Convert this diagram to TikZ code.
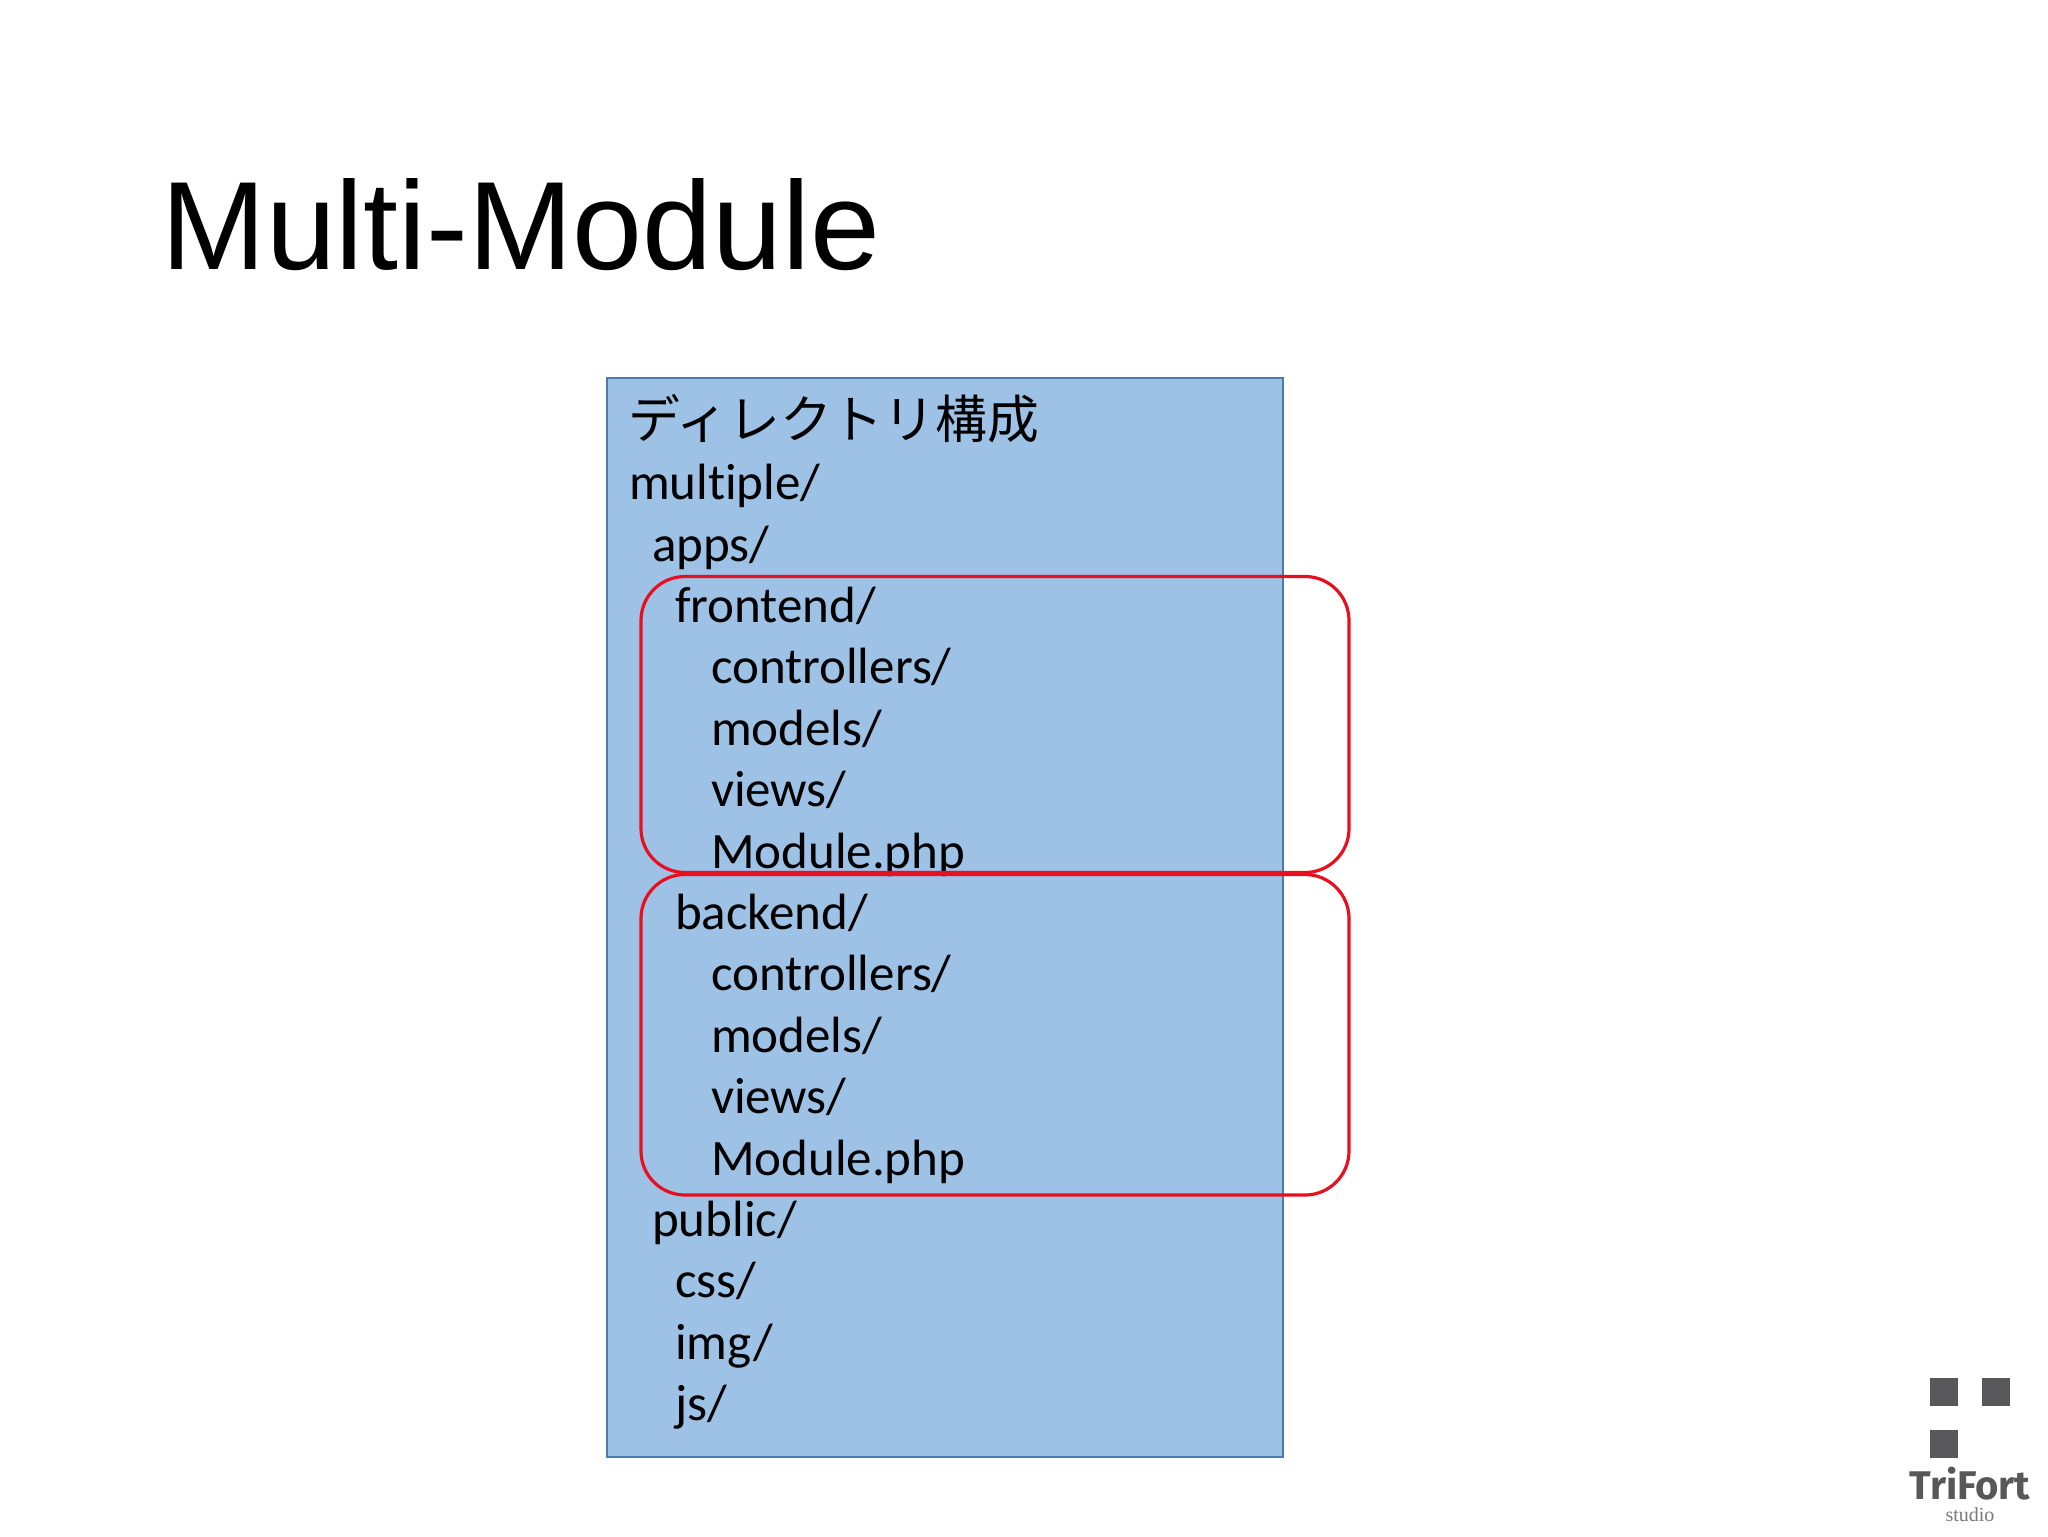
\documentclass[tikz,border=0pt]{standalone}
\usepackage{fontspec}
\setmainfont[Ligatures=NoCommon]{Carlito}
\newfontfamily\titlefont{Liberation Sans}
\newfontfamily\cjk{Noto Sans CJK JP}
\newfontfamily\logofont{Fira Sans}
\newfontfamily\logoserif{Liberation Serif}
\definecolor{boxfill}{HTML}{9DC2E6}
\definecolor{boxline}{HTML}{4A7BAA}
\definecolor{redline}{HTML}{E8101E}
\definecolor{logogray}{HTML}{58585A}
\tikzset{
  x=0.5pt,y=-0.5pt,
  treeline/.style={anchor=base west,inner sep=0pt,outer sep=0pt,font=\fontsize{25.5}{28}\selectfont,text=black},
  group/.style={draw=redline,line width=1.6pt,rounded corners=22pt},
  logosq/.style={fill=logogray,draw=none}
}
\begin{document}
\begin{tikzpicture}
\useasboundingbox (0,0) rectangle (2048,1536);
\fill[white] (0,0) rectangle (2048,1536);
\node[anchor=base west,inner sep=0pt,font=\titlefont\fontsize{62.8}{70}\selectfont] (title) at (161,269) {Multi-Module};
\draw[fill=boxfill,draw=boxline,line width=1.1pt] (607,378) rectangle (1283,1457);
\node[anchor=base west,inner sep=0pt,font=\cjk\fontsize{25.9}{30}\selectfont,text=black] (head) at (628,438) {ディレクトリ構成};
\node[treeline] (l1) at (629,499) {multiple/};
\node[treeline] (l2) at (652,561) {apps/};
\node[treeline] (l3) at (675,622) {frontend/};
\node[treeline] (l4) at (711,683) {controllers/};
\node[treeline] (l5) at (711,745) {models/};
\node[treeline] (l6) at (711,806) {views/};
\node[treeline] (l7) at (711,868) {Module.php};
\node[treeline] (l8) at (675,929) {backend/};
\node[treeline] (l9) at (711,990) {controllers/};
\node[treeline] (l10) at (711,1052) {models/};
\node[treeline] (l11) at (711,1113) {views/};
\node[treeline] (l12) at (711,1175) {Module.php};
\node[treeline] (l13) at (652,1236) {public/};
\node[treeline] (l14) at (675,1297) {css/};
\node[treeline] (l15) at (675,1359) {img/};
\node[treeline] (l16) at (675,1420) {js/};
\draw[group] (641,576.5) rectangle (1349,872.5);
\draw[group] (641,874.5) rectangle (1349,1195);
\fill[logosq] (1930,1378) rectangle (1958,1406);
\fill[logosq] (1982,1378) rectangle (2010,1406);
\fill[logosq] (1930,1430) rectangle (1958,1458);
\node[anchor=base,inner sep=0pt,font=\logofont\bfseries\fontsize{20}{24}\selectfont,text=logogray] (logo) at (1970,1499) {TriFort};
\node[anchor=base,inner sep=0pt,font=\logoserif\fontsize{10}{11}\selectfont,text=logogray!80] (studio) at (1970,1521) {studio};
\end{tikzpicture}
\end{document}
